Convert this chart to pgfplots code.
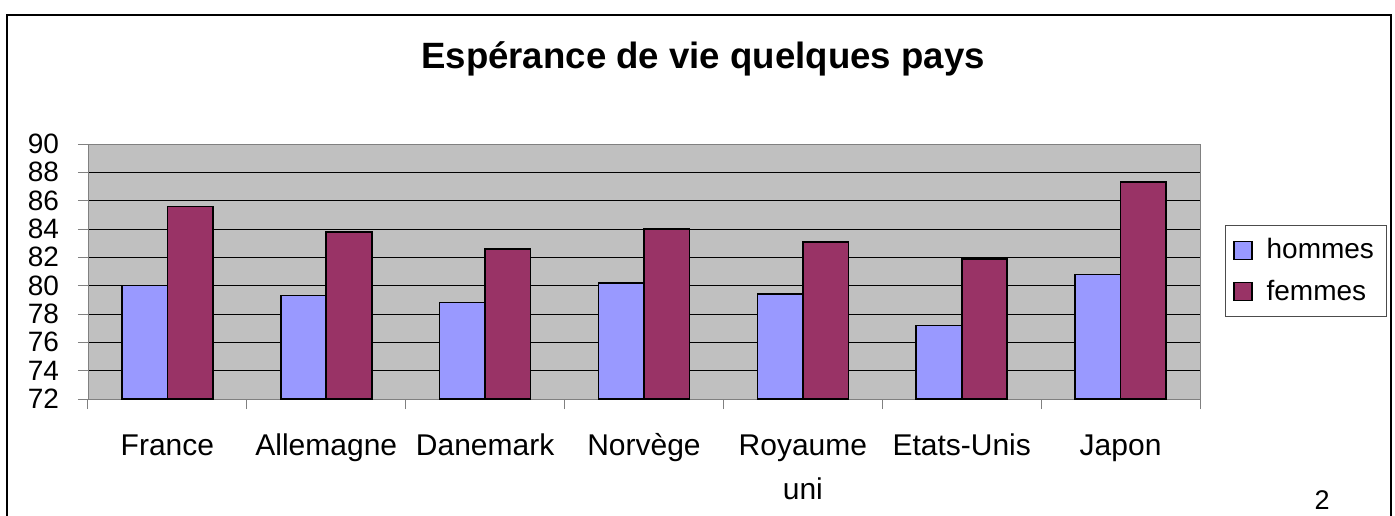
\documentclass[border=0pt]{standalone}
\usepackage{fontspec}
\setmainfont{Liberation Sans}
\usepackage{pgfplots}
\pgfplotsset{compat=1.18}
\definecolor{hom}{HTML}{9999FF}
\definecolor{fem}{HTML}{993366}
\definecolor{plotbg}{HTML}{C0C0C0}

\begin{document}
\begin{tikzpicture}
\useasboundingbox (0,0) rectangle (697.5pt,257.5pt);
\draw[line width=1.3pt] (3.5pt,-5pt) -- (3.5pt,250pt) -- (695.5pt,250pt) -- (695.5pt,-5pt);
\node[font=\fontsize{18.3}{22}\selectfont\bfseries] at (351.5pt,228pt) {Espérance de vie quelques pays};
\node[font=\fontsize{13.5}{16}\selectfont] at (661pt,7.5pt) {2};
\begin{axis}[
  at={(44pt,58pt)}, anchor=south west,
  scale only axis, width=556pt, height=127.5pt,
  ybar=0pt, bar width=22.75pt,
  xmin=-0.5, xmax=6.5, ymin=72, ymax=90,
  ytick={72,74,...,90},
  xtick={-0.5,0.5,...,6.5}, xticklabels={},
  extra x ticks={0,1,2,3,4,5,6},
  extra x tick labels={\vphantom{è}France,\vphantom{è}Allemagne,\vphantom{è}Danemark,Norvège,{\vphantom{è}Royaume\\[5pt]uni},\vphantom{è}Etats-Unis,\vphantom{è}Japon},
  extra x tick style={major tick length=0pt, grid=none,
    xticklabel style={align=center, anchor=north, yshift=-13.5pt, font=\fontsize{15}{17}\selectfont}},
  axis background/.style={fill=plotbg},
  ymajorgrids, major grid style={black, line width=0.5pt},
  axis line style={gray},
  tick style={gray, line width=0.5pt}, tick align=outside, major tick length=5pt,
  xtick pos=bottom, ytick pos=left,
  tick label style={font=\fontsize{14}{16}\selectfont},
  yticklabel style={xshift=-6pt},
  /pgf/number format/assume math mode=true,
  legend style={at={(1.0225,0.682)}, anchor=north west, draw=black!70, fill=white,
    font=\fontsize{14}{16}\selectfont, inner xsep=4pt, inner ysep=4.5pt, row sep=5pt,
    legend cell align=left,
    /tikz/every odd column/.append style={column sep=5pt}},
  legend image code/.code={\draw[#1, line width=0.6pt] (0pt,-4.5pt) rectangle (9pt,4.5pt);},
]
\addplot[fill=hom, draw=black, line width=0.8pt] coordinates {
  (0,80.0) (1,79.3) (2,78.8) (3,80.2) (4,79.4) (5,77.2) (6,80.8)
};
\addplot[fill=fem, draw=black, line width=0.8pt] coordinates {
  (0,85.6) (1,83.8) (2,82.6) (3,84.0) (4,83.1) (5,81.9) (6,87.3)
};
\legend{hommes, femmes}
\end{axis}
\end{tikzpicture}
\end{document}
